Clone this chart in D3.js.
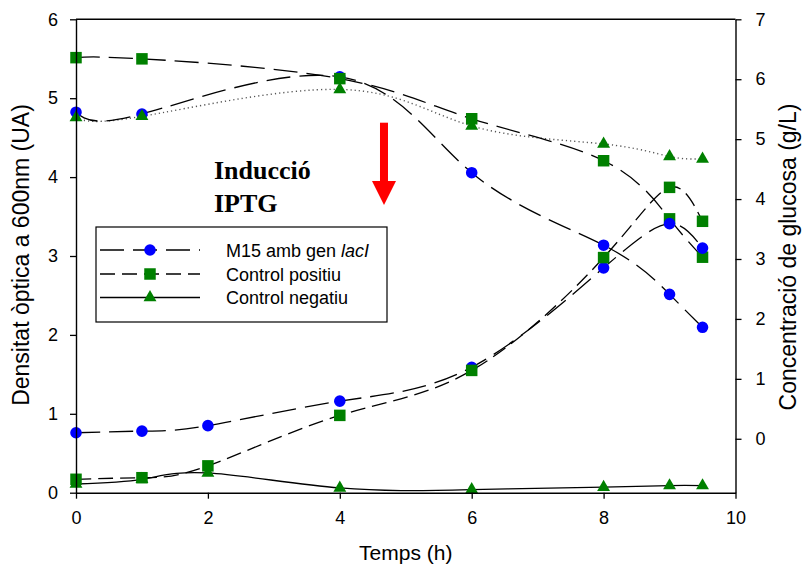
<!DOCTYPE html>
<html>
<head>
<meta charset="utf-8">
<script src="https://cdn.jsdelivr.net/npm/d3@7"></script>
<style>
  html, body { margin: 0; padding: 0; background: #fff; }
  svg { display: block; }
</style>
</head>
<body>
<svg id="chart" width="803" height="572"></svg>
<script>
// Sampling times (h)
const timesOD = [0, 1, 2, 4, 6, 8, 9, 9.5];
const timesGlc = [0, 1, 4, 6, 8, 9, 9.5];

// Optical density at 600 nm (UA) — left axis
const odM15 = [0.76, 0.78, 0.85, 1.16, 1.59, 2.85, 3.41, 3.10];
const odPos = [0.17, 0.19, 0.34, 0.98, 1.55, 2.98, 3.87, 3.44];
const odNeg = [0.11, 0.17, 0.25, 0.06, 0.04, 0.07, 0.09, 0.09];

// Glucose concentration (g/L) — right axis
const glcM15 = [5.45, 5.42, 6.04, 4.44, 3.23, 2.41, 1.86];
const glcPos = [6.36, 6.34, 6.01, 5.34, 4.64, 3.67, 3.03];
const glcNeg = [5.36, 5.38, 5.83, 5.22, 4.92, 4.71, 4.67];

const xTicks = [0, 2, 4, 6, 8, 10];
const yLeftTicks = [0, 1, 2, 3, 4, 5, 6];
const yRightTicks = [0, 1, 2, 3, 4, 5, 6, 7];

const seriesNames = ["M15 amb gen ", "Control positiu", "Control negatiu"];

const SANS = "'Liberation Sans', Arial, sans-serif";
const SERIF = "'Liberation Serif', 'Times New Roman', serif";

const plotL = 76, plotR = 735.5, plotT = 19.3, plotB = 492.7;
const inductionTime = 4.67;

const svg = d3.select("#chart").style("font-family", SANS);

const x = d3.scaleLinear().domain([0, 10]).range([plotL, plotR]);
const yOD = d3.scaleLinear().domain([0, 6]).range([plotB, plotT]);
const yGlc = d3.scaleLinear().domain([-0.9, 7]).range([plotB, plotT]);

const BLUE = "#0000ff", GREEN = "#008000";

const styles = {
  m15: { dash: "24,9", color: BLUE, sym: "circle" },
  pos: { dash: "15,7", color: GREEN, sym: "square" },
  neg: { dash: null, color: GREEN, sym: "triangle" }
};

function symbolPath(kind) {
  if (kind === "circle") return d3.symbol(d3.symbolCircle, Math.PI * 5.8 * 5.8)();
  if (kind === "square") return d3.symbol(d3.symbolSquare, 11.5 * 11.5)();
  return d3.symbol(d3.symbolTriangle, 72)();
}

function drawSeries(ts, vs, yScale, lineStyle) {
  const pts = ts.map((t, i) => [t, vs[i]]);
  const line = d3.line()
    .x(d => x(d[0]))
    .y(d => yScale(d[1]))
    .curve(d3.curveNatural);
  const p = svg.append("path")
    .attr("d", line(pts))
    .attr("fill", "none")
    .attr("stroke", lineStyle.stroke || "#000")
    .attr("stroke-width", lineStyle.width || 1.3);
  if (lineStyle.dash) p.attr("stroke-dasharray", lineStyle.dash);
  return pts;
}

function drawMarkers(pts, yScale, st) {
  svg.append("g").selectAll("path")
    .data(pts)
    .join("path")
    .attr("d", symbolPath(st.sym))
    .attr("transform", d => `translate(${x(d[0])},${yScale(d[1])})`)
    .attr("fill", st.color);
}

// Curves
const gN = drawSeries(timesGlc, glcNeg, yGlc, { dash: "1.2,3", stroke: "#555", width: 1.4 });
const gP = drawSeries(timesGlc, glcPos, yGlc, { dash: styles.m15.dash });
const gM = drawSeries(timesGlc, glcM15, yGlc, { dash: styles.m15.dash });
const oN = drawSeries(timesOD, odNeg, yOD, { dash: null });
const oP = drawSeries(timesOD, odPos, yOD, { dash: styles.pos.dash });
const oM = drawSeries(timesOD, odM15, yOD, { dash: styles.m15.dash });

drawMarkers(gM, yGlc, styles.m15);
drawMarkers(gP, yGlc, styles.pos);
drawMarkers(gN, yGlc, styles.neg);
drawMarkers(oM, yOD, styles.m15);
drawMarkers(oP, yOD, styles.pos);
drawMarkers(oN, yOD, styles.neg);

// Axes
const axisFont = 18;
const fmt = d3.format("d");
const gx = svg.append("g").attr("transform", `translate(0,${plotB})`)
  .call(d3.axisBottom(x).tickValues(xTicks).tickFormat(fmt).tickSize(6).tickSizeOuter(0).tickPadding(13));
const gl = svg.append("g").attr("transform", `translate(${plotL},0)`)
  .call(d3.axisLeft(yOD).tickValues(yLeftTicks).tickFormat(fmt).tickSize(6).tickSizeOuter(0).tickPadding(12));
const gr = svg.append("g").attr("transform", `translate(${plotR},0)`)
  .call(d3.axisRight(yGlc).tickValues(yRightTicks).tickFormat(fmt).tickSize(6).tickSizeOuter(0).tickPadding(14));
[gx, gl, gr].forEach(g => {
  g.attr("font-family", null).attr("font-size", null);
  g.selectAll("path.domain").attr("stroke", "#000").attr("stroke-width", 1.4);
  g.selectAll(".tick line").attr("stroke", "#000").attr("stroke-width", 1.3);
  g.selectAll(".tick text").style("font-size", axisFont + "px")
    .style("font-family", SANS).attr("fill", "#000");
});
// top frame line
svg.append("line").attr("x1", plotL).attr("x2", plotR).attr("y1", plotT).attr("y2", plotT)
  .attr("stroke", "#000").attr("stroke-width", 1.4);

// Axis titles
svg.append("text").attr("x", (plotL + plotR) / 2).attr("y", 560)
  .attr("text-anchor", "middle").style("font-size", "21px").text("Temps (h)");
svg.append("text").attr("transform", `translate(21,255) rotate(-90)`)
  .attr("text-anchor", "middle").attr("dy", "0.35em").style("font-size", "23px")
  .text("Densitat òptica a 600nm (UA)");
svg.append("text").attr("transform", `translate(788,257) rotate(-90)`)
  .attr("text-anchor", "middle").attr("dy", "0.35em").style("font-size", "23px")
  .text("Concentració de glucosa (g/L)");

// Induction annotation
const ax = x(inductionTime);
svg.append("rect").attr("x", ax - 4).attr("y", 122.7).attr("width", 8).attr("height", 58.5)
  .attr("fill", "#ff0000");
svg.append("path")
  .attr("d", `M${ax - 12},181 L${ax + 12},181 L${ax},205 Z`).attr("fill", "#ff0000");
[["Inducció", 179], ["IPTG", 212]].forEach(([s, yy]) => {
  svg.append("text").attr("x", 214).attr("y", yy)
    .style("font-family", SERIF).style("font-weight", "bold").style("font-size", "26px")
    .text(s);
});

// Legend
const lg = svg.append("g");
lg.append("rect").attr("x", 96).attr("y", 227).attr("width", 291).attr("height", 95)
  .attr("fill", "#fff").attr("stroke", "#000").attr("stroke-width", 1.2);
const rows = [
  { st: styles.m15, dash: styles.m15.dash, y: 250, label: seriesNames[0], italic: "lacI" },
  { st: styles.pos, dash: styles.pos.dash, y: 274, label: seriesNames[1] },
  { st: styles.neg, dash: null, y: 297.5, label: seriesNames[2] }
];
rows.forEach(r => {
  const l = lg.append("line").attr("x1", 100).attr("x2", 200).attr("y1", r.y).attr("y2", r.y)
    .attr("stroke", "#000").attr("stroke-width", 1.3);
  if (r.dash) l.attr("stroke-dasharray", r.dash);
  lg.append("path").attr("d", symbolPath(r.st.sym))
    .attr("transform", `translate(150,${r.y})`).attr("fill", r.st.color);
  const t = lg.append("text").attr("x", 226).attr("y", r.y + 6.5).style("font-size", "18px").text(r.label);
  if (r.italic) t.append("tspan").style("font-style", "italic").text(r.italic);
});
</script>
</body>
</html>
